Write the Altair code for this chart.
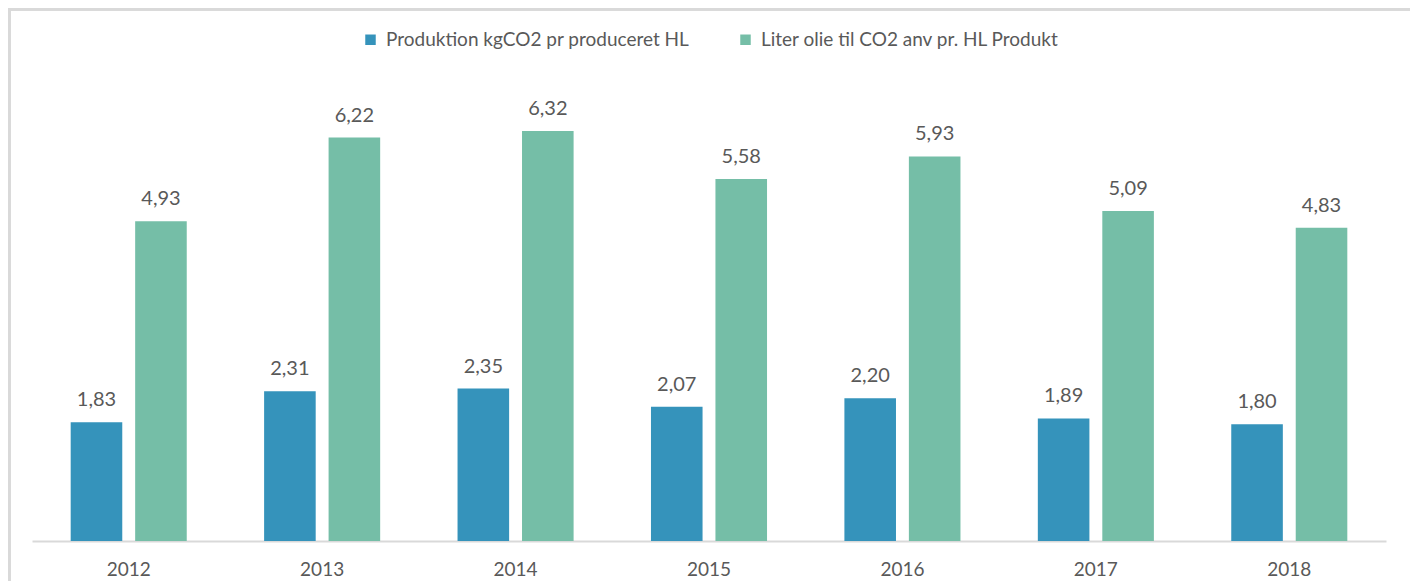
import altair as alt
import pandas as pd

years = ["2012", "2013", "2014", "2015", "2016", "2017", "2018"]
series_names = ["Produktion kgCO2 pr produceret HL", "Liter olie til CO2 anv pr. HL Produkt"]
produktion = [1.83, 2.31, 2.35, 2.07, 2.20, 1.89, 1.80]
olie = [4.93, 6.22, 6.32, 5.58, 5.93, 5.09, 4.83]
colors = ["#3593BB", "#75BEA7"]

rows = []
for i, y in enumerate(years):
    rows.append({"year": y, "series": series_names[0], "value": produktion[i]})
    rows.append({"year": y, "series": series_names[1], "value": olie[i]})
df = pd.DataFrame(rows)

FONT = "Lato"
GRAY = "#595959"

x_enc = alt.X("year:N", sort=years, title=None,
              scale=alt.Scale(paddingInner=0.4, paddingOuter=0.2),
              axis=alt.Axis(labelAngle=0, ticks=False, domainColor="#d9d9d9", domainWidth=2,
                            labelFont=FONT, labelFontSize=19, labelColor=GRAY, labelPadding=19,
                            grid=False))
xoff = alt.XOffset("series:N", sort=series_names,
                   scale=alt.Scale(paddingInner=0.2, paddingOuter=0))
y_enc = alt.Y("value:Q", scale=alt.Scale(domain=[0, 7], nice=False), axis=None)

base = alt.Chart(df).encode(x=x_enc, xOffset=xoff, y=y_enc)

bars = base.mark_bar().encode(
    color=alt.Color("series:N", sort=series_names,
                    scale=alt.Scale(domain=series_names, range=colors),
                    legend=alt.Legend(title=None, orient="none", direction="horizontal",
                                      legendX=329, legendY=-57,
                                      symbolType="square", symbolSize=110, symbolStrokeWidth=0,
                                      labelFont=FONT, labelFontSize=19, labelColor=GRAY,
                                      labelLimit=1000, labelOffset=6, columnPadding=46))
)

labels = base.transform_calculate(
    label="replace(format(datum.value, '.2f'), '.', ',')"
).mark_text(baseline="bottom", dy=-12, font=FONT, fontSize=20, color=GRAY).encode(
    text="label:N"
)

frame = alt.Chart(df).mark_rect(fill=None, stroke="#d9d9d9", strokeWidth=3, clip=False).encode(
    x=alt.value(-23), x2=alt.value(1380), y=alt.value(-78), y2=alt.value(600)
)

chart = alt.layer(frame, bars, labels).properties(
    width=1354, height=454,
    autosize=alt.AutoSizeParams(type="none"),
    padding={"left": 24, "top": 79, "right": 24, "bottom": 40},
    background="white",
).configure_view(strokeWidth=0, stroke="transparent")

chart.save("out.html", embed_options={"renderer": "svg", "actions": False})
